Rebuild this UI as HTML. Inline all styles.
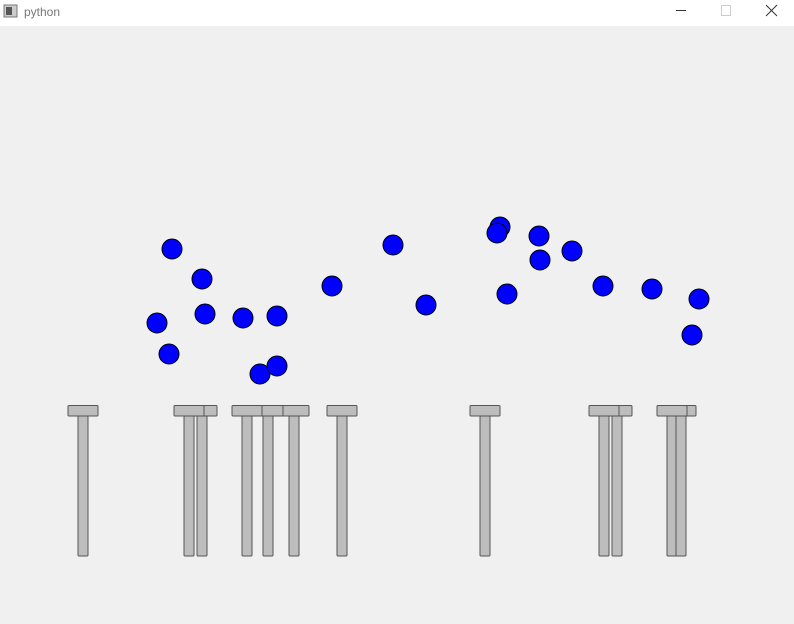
<!DOCTYPE html>
<html><head><meta charset="utf-8"><style>
body{margin:0;width:794px;height:624px;overflow:hidden;background:#f0f0f0;font-family:"Liberation Sans",sans-serif}
#title{position:absolute;left:0;top:0;width:794px;height:26px;background:#fff}
</style></head><body>
<div id="title">
<svg width="794" height="26">
<rect x="4" y="5" width="13" height="12" fill="#ccc" stroke="#777"/>
<rect x="6" y="7" width="6" height="8" fill="#555"/>
<text x="24" y="16" font-size="12" fill="#777" font-family="Liberation Sans, sans-serif">python</text>
<line x1="676" y1="10.5" x2="686" y2="10.5" stroke="#333"/>
<rect x="721.5" y="5.5" width="9" height="10" fill="none" stroke="#ccc"/>
<path d="M766 5 L777 16 M777 5 L766 16" stroke="#333"/>
</svg>
</div>
<svg id="scene" width="794" height="624" style="position:absolute;left:0;top:0;pointer-events:none"></svg>
<script>
const pillarX=[83,189,202,247,268,294,342,485,604,617,672,681];
const ballX=[172,202,157,205,169,243,277,260,277,332,393,426,500,497,507,539,540,572,603,652,699,692];
const ballY=[249,279,323,314,354,318,316,374,366,286,245,305,227,233,294,236,260,251,286,289,299,335];
const NS='http://www.w3.org/2000/svg';
const svg=document.getElementById('scene');
function mk(t,a){const e=document.createElementNS(NS,t);for(const k in a)e.setAttribute(k,a[k]);svg.appendChild(e);return e;}
pillarX.forEach(x=>{
  const s=mk('rect',{x:x-5,y:416,width:10,height:140,fill:'#bdbdbd',stroke:'#555','stroke-width':1,rx:1});
  
  
});
pillarX.slice().reverse().forEach(x=>{
  const c=mk('rect',{x:x-15,y:405.5,width:30,height:10.5,fill:'#bdbdbd',stroke:'#555','stroke-width':1,rx:1});
  
  
});
ballX.forEach((x,i)=>{
  const b=mk('circle',{cx:x,cy:ballY[i],r:10,fill:'#0000ff',stroke:'#000','stroke-width':1});
  
  
});
</script>
</body></html>
